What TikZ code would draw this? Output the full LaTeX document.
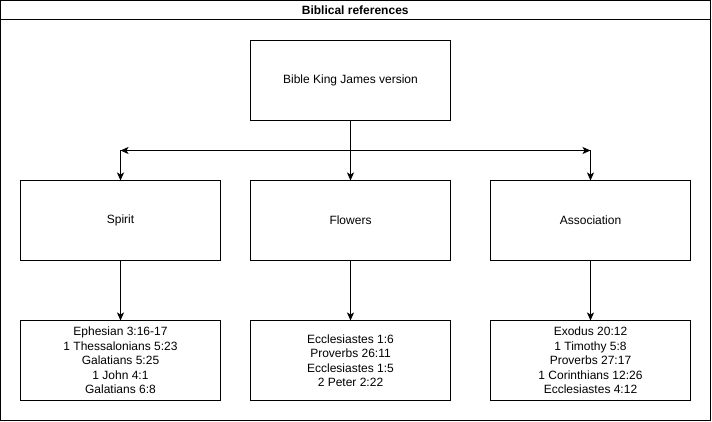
\documentclass[tikz,border=0pt]{standalone}
\usepackage{fontspec}
\setmainfont{Liberation Sans}
\usetikzlibrary{arrows.meta,positioning,calc}

\begin{document}
\begin{tikzpicture}[
  x=1pt, y=-1pt,
  every node/.style={font=\fontsize{12}{14.5}\selectfont},
  box/.style={draw, line width=1pt, minimum width=200pt, minimum height=80pt,
              inner sep=0pt, outer sep=0pt, align=center},
  arr/.style={-{Stealth[length=8pt, width=7pt, inset=2pt]}, line width=1pt},
  node distance=60pt and 30pt,
]

%% Frame with title bar
\useasboundingbox (0,0) rectangle (712,422);
\draw[line width=1pt] (0.5,0.5) rectangle (710,420);
\draw[line width=1pt] (0.5,20) -- (710,20);
\node[font=\fontsize{12}{14}\selectfont\bfseries] (title) at (355.25,10.5) {Biblical references};

%% Source
\node[box] (kjv) at (350.5,80.5) {Bible King James version};

%% Topics
\node[box, below=60pt of kjv] (flowers) {Flowers};
\node[box, left=30pt of flowers] (spirit) {Spirit};
\node[box, right=40pt of flowers] (assoc) {Association};

%% References
\node[box, below=60pt of spirit] (refspirit)
  {Ephesian 3:16-17\\1 Thessalonians 5:23\\Galatians 5:25\\1 John 4:1\\Galatians 6:8};
\node[box, below=60pt of flowers] (refflowers)
  {Ecclesiastes 1:6\\Proverbs 26:11\\Ecclesiastes 1:5\\2 Peter 2:22};
\node[box, below=60pt of assoc] (refassoc)
  {Exodus 20:12\\1 Timothy 5:8\\Proverbs 27:17\\1 Corinthians 12:26\\Ecclesiastes 4:12};

%% Split points
\coordinate (splitL) at ($(spirit.north)+(0,30pt)$);
\coordinate (splitR) at ($(assoc.north)+(0,30pt)$);

%% Arrows
\draw[arr] (kjv) -- (flowers);
\draw[arr] (kjv.south) |- (splitL);
\draw[arr] (kjv.south) |- (splitR);
\draw[arr] (splitL) -- (spirit);
\draw[arr] (splitR) -- (assoc);
\draw[arr] (spirit)  -- (refspirit);
\draw[arr] (flowers) -- (refflowers);
\draw[arr] (assoc)   -- (refassoc);

\end{tikzpicture}
\end{document}
